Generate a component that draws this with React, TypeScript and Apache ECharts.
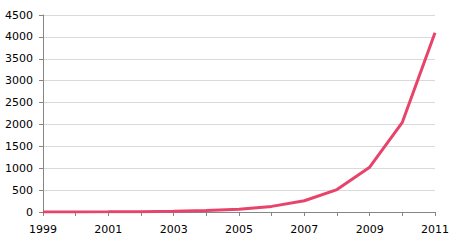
import React, { useEffect, useRef } from "react";
import * as echarts from "echarts";

const years = ["1999", "2000", "2001", "2002", "2003", "2004", "2005", "2006", "2007", "2008", "2009", "2010", "2011"];
const values = [1, 2, 4, 8, 16, 32, 64, 128, 256, 512, 1024, 2048, 4096];

export default function App() {
  const ref = useRef<HTMLDivElement>(null);
  useEffect(() => {
    const chart = echarts.init(ref.current!, undefined, { renderer: "svg" });
    chart.setOption({
      animation: false,
      grid: { left: 43, right: 19, top: 15, bottom: 29, containLabel: false },
      xAxis: {
        type: "category",
        data: years,
        boundaryGap: false,
        axisLine: { lineStyle: { color: "#868686", width: 1 } },
        axisTick: { show: true, interval: 0, length: 4, lineStyle: { color: "#868686" } },
        axisLabel: { interval: 1, color: "#000", fontFamily: "DejaVu Sans", fontSize: 11, margin: 12 },
        splitLine: { show: false },
      },
      yAxis: {
        type: "value",
        min: 0,
        max: 4500,
        interval: 500,
        axisLine: { show: true, lineStyle: { color: "#868686", width: 1 } },
        axisTick: { show: true, length: 4, lineStyle: { color: "#868686" } },
        axisLabel: {
          color: "#000",
          fontFamily: "DejaVu Sans",
          fontSize: 11,
          margin: 10,
          formatter: (v: number) => String(v),
        },
        splitLine: { lineStyle: { color: "#d9d9d9", width: 1 } },
      },
      series: [
        {
          type: "line",
          data: values,
          symbol: "none",
          lineStyle: { color: "#e8436b", width: 3 },
          itemStyle: { color: "#e8436b" },
        },
      ],
    });
    return () => chart.dispose();
  }, []);
  return <div ref={ref} style={{ width: 454, height: 241, position: "absolute", left: 0, top: 0 }} />;
}
